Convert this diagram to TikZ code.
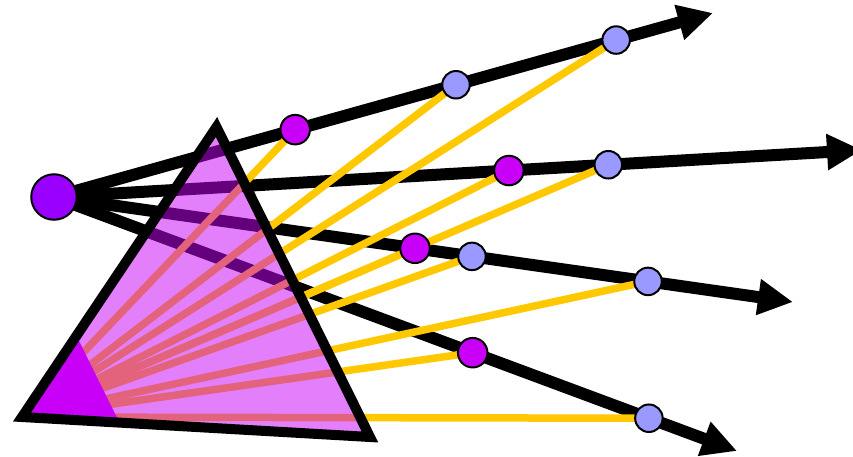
\documentclass[tikz,border=0pt]{standalone}
\usetikzlibrary{arrows.meta,calc}
\definecolor{violetc}{HTML}{9900FF}
\definecolor{magc}{HTML}{C800F8}
\definecolor{bluec}{HTML}{9999FF}
\definecolor{yelc}{HTML}{FFC800}
\pgfdeclarelayer{bg}
\pgfdeclarelayer{mid}
\pgfsetlayers{bg,mid,main}
\begin{document}
\begin{tikzpicture}[x=1pt,y=-1pt,
  ray/.style={line width=12pt,-{Triangle[length=35pt,width=34pt]}},
  yel/.style={yelc,line width=7.5pt},
  bigdot/.style={circle,fill=violetc,draw=black,line width=2pt,minimum size=45.5pt,inner sep=0pt},
  mdot/.style={circle,fill=magc,draw=black,line width=2pt,minimum size=29.5pt,inner sep=0pt},
  bdot/.style={circle,fill=bluec,draw=black,line width=2pt,minimum size=27.5pt,inner sep=0pt}]
\useasboundingbox (0,0) rectangle (853,457);
\coordinate (O) at (54,197);
\coordinate (E1) at (713,13);
\coordinate (E2) at (862,150);
\coordinate (E3) at (793,302);
\coordinate (E4) at (737,451);
\coordinate (A) at (22,417);
\coordinate (B) at (216.5,127);
\coordinate (C) at (370,437);
% circles
\node[bigdot] (src) at (O) {};
\node[mdot] (m1) at ($(O)!0.366!(E1)$) {};
\node[bdot] (b1) at ($(O)!0.610!(E1)$) {};
\node[bdot] (b2) at ($(O)!0.853!(E1)$) {};
\node[mdot] (m2) at ($(O)!0.563!(E2)$) {};
\node[bdot] (b3) at ($(O)!0.686!(E2)$) {};
\node[mdot] (m3) at ($(O)!0.4885!(E3)$) {};
\node[bdot] (b4) at ($(O)!0.5656!(E3)$) {};
\node[bdot] (b5) at ($(O)!0.8038!(E3)$) {};
\node[mdot] (m4) at ($(O)!0.613!(E4)$) {};
\node[bdot] (b6) at ($(O)!0.871!(E4)$) {};
\begin{pgfonlayer}{bg}
  \draw[ray] (src.center) -- (E1);
  \draw[ray] (src.center) -- (E2);
  \draw[ray] (src.center) -- (E3);
  \draw[ray] (src.center) -- (E4);
  \foreach \n in {m1,b1,b2,m2,b3,m3,b4,b5,m4,b6}
    \draw[yel] (A) -- (\n.center);
\end{pgfonlayer}
\begin{pgfonlayer}{mid}
  \fill[magc,fill opacity=0.5] (A) -- (B) -- (C) -- cycle;
  \fill[magc] (A) -- ($(A)!0.28!(B)$) -- ($(A)!0.28!(C)$) -- cycle;
  \draw[line width=10pt,line join=miter] (A) -- (B) -- (C) -- cycle;
\end{pgfonlayer}
\end{tikzpicture}
\end{document}
